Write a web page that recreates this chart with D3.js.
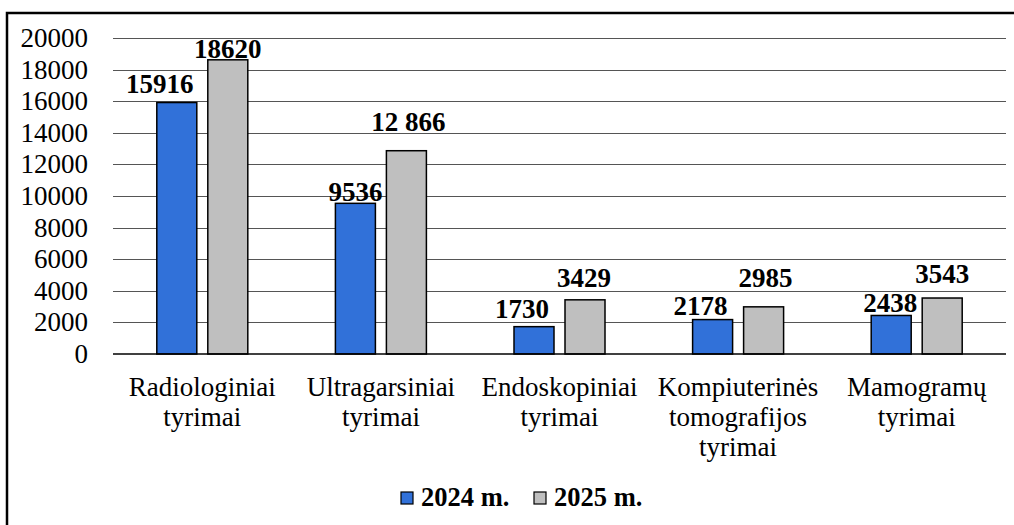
<!DOCTYPE html>
<html>
<head>
<meta charset="utf-8">
<script src="https://cdn.jsdelivr.net/npm/d3@7"></script>
<style>
  html, body { margin: 0; padding: 0; background: #fff; }
  svg { display: block; }
</style>
</head>
<body>
<script>
const categories = [
  ['Radiologiniai', 'tyrimai'],
  ['Ultragarsiniai', 'tyrimai'],
  ['Endoskopiniai', 'tyrimai'],
  ['Kompiuterinės', 'tomografijos', 'tyrimai'],
  ['Mamogramų', 'tyrimai']
];
const seriesNames = ['2024 m.', '2025 m.'];
const values2024 = [15916, 9536, 1730, 2178, 2438];
const values2025 = [18620, 12866, 3429, 2985, 3543];
const labels2024 = ['15916', '9536', '1730', '2178', '2438'];
const labels2025 = ['18620', '12 866', '3429', '2985', '3543'];
const yTicks = [0, 2000, 4000, 6000, 8000, 10000, 12000, 14000, 16000, 18000, 20000];

// manual nudges of the value labels, as in the original (dx, gap above bar)
const labelNudge2024 = [[-17, 10], [0, 2], [-12, 9], [-12, 5], [-1, 3]];
const labelNudge2025 = [[0, 2], [2, 20], [-1, 13], [2, 20], [0, 15]];

const colors = ['#3171d9', '#bfbfbf'];
const fontFamily = "'Liberation Serif', 'Times New Roman', Tinos, 'DejaVu Serif', serif";
const width = 1014, height = 525;
const plotLeft = 113, plotRight = 1006, plotTop = 38, plotBottom = 354;

const svg = d3.select('body').append('svg')
  .attr('width', width)
  .attr('height', height)
  .attr('font-family', fontFamily)
  .style('font-family', fontFamily);

// outer frame (right and bottom edges are outside the picture)
svg.append('rect')
  .attr('x', 7).attr('y', 13)
  .attr('width', 1030).attr('height', 540)
  .attr('fill', 'none')
  .attr('stroke', '#000')
  .attr('stroke-width', 2.5);

const x = d3.scaleBand()
  .domain(d3.range(categories.length))
  .range([plotLeft, plotRight]);

const xs = d3.scaleBand()
  .domain([0, 1])
  .range([x.bandwidth() / 2 - 45.5, x.bandwidth() / 2 + 45.5])
  .paddingInner(2 - 91 / 51);

const y = d3.scaleLinear()
  .domain([0, 20000])
  .range([plotBottom, plotTop]);

// gridlines
svg.append('g')
  .selectAll('line')
  .data(yTicks.filter(t => t > 0))
  .enter()
  .append('line')
  .attr('x1', plotLeft).attr('x2', plotRight)
  .attr('y1', d => Math.round(y(d)) + 0.5)
  .attr('y2', d => Math.round(y(d)) + 0.5)
  .attr('stroke', '#555')
  .attr('stroke-width', 1);

// y tick labels
svg.append('g')
  .selectAll('text')
  .data(yTicks)
  .enter()
  .append('text')
  .attr('x', 88)
  .attr('y', d => y(d) + 9)
  .attr('text-anchor', 'end')
  .attr('font-size', 27)
  .text(d => d);

const series = [values2024, values2025];
const seriesLabels = [labels2024, labels2025];
const nudges = [labelNudge2024, labelNudge2025];

series.forEach(function(vals, s) {
  svg.append('g')
    .selectAll('rect')
    .data(vals)
    .enter()
    .append('rect')
    .attr('x', (d, i) => x(i) + xs(s))
    .attr('y', d => y(d))
    .attr('width', xs.bandwidth())
    .attr('height', d => y(0) - y(d))
    .attr('fill', colors[s])
    .attr('stroke', '#000')
    .attr('stroke-width', 1.5);
});

// zero axis
svg.append('line')
  .attr('x1', plotLeft).attr('x2', plotRight)
  .attr('y1', y(0)).attr('y2', y(0))
  .attr('stroke', '#000')
  .attr('stroke-width', 1.5);

// value labels
series.forEach(function(vals, s) {
  svg.append('g')
    .selectAll('text')
    .data(vals)
    .enter()
    .append('text')
    .attr('x', (d, i) => x(i) + xs(s) + xs.bandwidth() / 2 + nudges[s][i][0])
    .attr('y', (d, i) => y(d) - nudges[s][i][1])
    .attr('text-anchor', 'middle')
    .attr('font-size', 27)
    .attr('font-weight', 'bold')
    .text((d, i) => seriesLabels[s][i]);
});

// category labels
const cat = svg.append('g')
  .selectAll('text')
  .data(categories)
  .enter()
  .append('text')
  .attr('x', (d, i) => x(i) + x.bandwidth() / 2)
  .attr('y', 396)
  .attr('text-anchor', 'middle')
  .attr('font-size', 27);

cat.selectAll('tspan')
  .data(d => d)
  .enter()
  .append('tspan')
  .attr('x', function() { return d3.select(this.parentNode).attr('x'); })
  .attr('dy', (d, i) => i === 0 ? 0 : 30)
  .text(d => d);

// legend
const legendX = [401, 534];
const legend = svg.append('g')
  .selectAll('g')
  .data(seriesNames)
  .enter()
  .append('g')
  .attr('transform', (d, i) => `translate(${legendX[i]},492)`);

legend.append('rect')
  .attr('width', 12).attr('height', 12)
  .attr('fill', (d, i) => colors[i])
  .attr('stroke', '#000')
  .attr('stroke-width', 1.2);

legend.append('text')
  .attr('x', 20)
  .attr('y', 14)
  .attr('font-size', 26.5)
  .attr('font-weight', 'bold')
  .text(d => d);
</script>
</body>
</html>
